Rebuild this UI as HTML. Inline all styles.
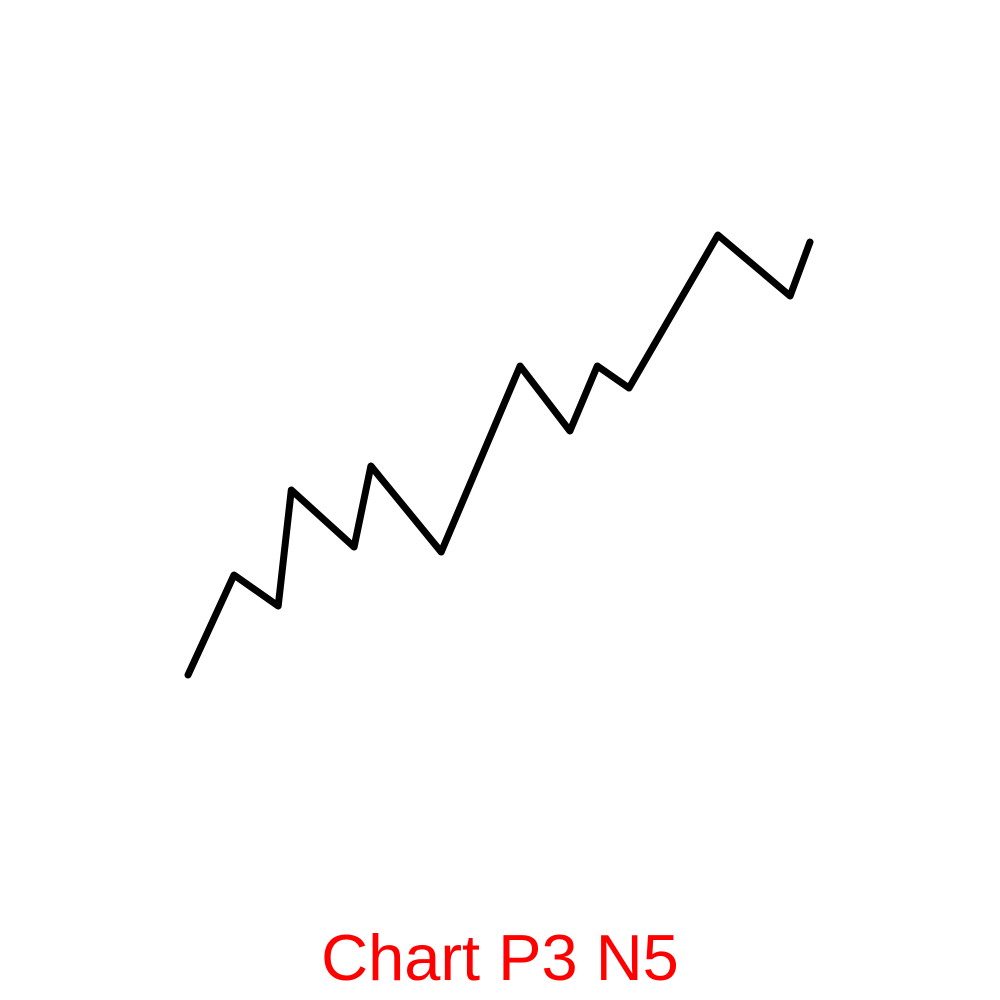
<!DOCTYPE html>
<html><head><meta charset="utf-8"><style>
html,body{margin:0;padding:0;background:#fff;}
svg{display:block;}
</style></head><body>
<svg id="chart" width="1000" height="1000" viewBox="0 0 1000 1000" xmlns="http://www.w3.org/2000/svg">
<rect width="1000" height="1000" fill="#fff"/>
<g id="plot"></g>
<text x="500" y="980" text-anchor="middle" fill="#ff0000" font-family="Liberation Sans, sans-serif" font-size="65">Chart P3 N5</text>
</svg>
<script>
const xValues = [0, 7.4, 14.5, 16.6, 26.7, 29.4, 40.7, 53.4, 61.4, 65.8, 70.9, 85.2, 96.8, 100];
const yValues = [5, 25, 18.8, 42, 30.6, 46.8, 29.6, 66.8, 53.8, 66.8, 62.4, 93, 80.8, 91.6];
function xScale(v){ return 188 + v * 6.22; }
function yScale(v){ return 700 - v * 5; }
const plot = document.getElementById('plot');
const ns = 'http://www.w3.org/2000/svg';
const pts = xValues.map((x,i)=>xScale(x).toFixed(1)+','+yScale(yValues[i]).toFixed(1)).join(' ');
const line = document.createElementNS(ns,'polyline');
line.setAttribute('points', pts);
line.setAttribute('fill','none');
line.setAttribute('stroke','#000');
line.setAttribute('stroke-width','7');
line.setAttribute('stroke-linejoin','round');
line.setAttribute('stroke-linecap','round');


plot.appendChild(line);
</script>
</body></html>
